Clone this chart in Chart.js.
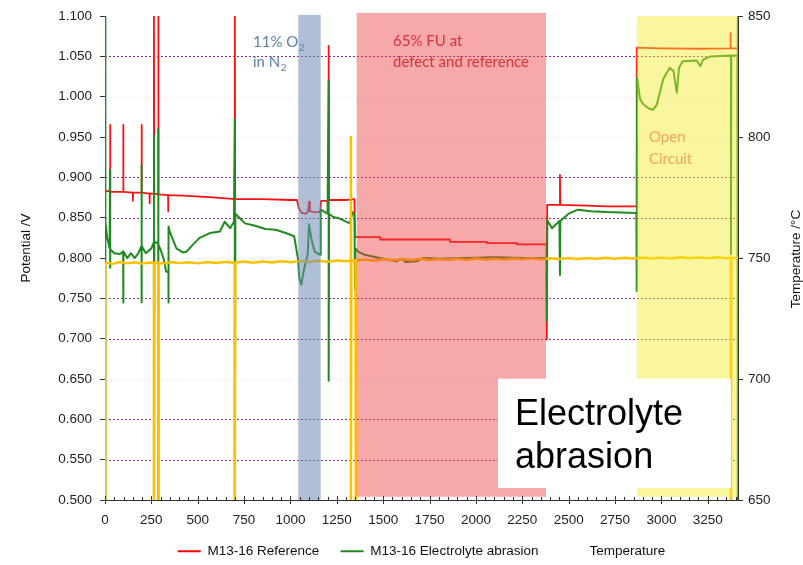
<!DOCTYPE html>
<html><head><meta charset="utf-8">
<script src="https://cdn.jsdelivr.net/npm/chart.js@4/dist/chart.umd.min.js"></script>
<style>html,body{margin:0;padding:0;background:#fff}</style>
</head><body>
<canvas id="c" width="803" height="565"></canvas>
<script>
// ---------- data ----------
const seriesNames = ['M13-16 Reference', 'M13-16 Electrolyte abrasion', 'Temperature'];
const xTickValues = [0,250,500,750,1000,1250,1500,1750,2000,2250,2500,2750,3000,3250];

// [time, potential V]
const referenceSeries = [
 [5,0.883],[27,0.883],[27,0.965],[29,0.882],[60,0.882],[98,0.882],[98,0.965],[100,0.882],
 [150,0.881],[150,0.871],[152,0.881],[197,0.881],[197,0.965],[199,0.881],[240,0.880],[240,0.868],[242,0.880],
 [264,0.880],[264,1.1],[266,0.880],[287,0.879],[287,1.1],[289,0.879],[340,0.878],[340,0.858],[342,0.878],
 [450,0.877],[600,0.875],[700,0.873],[700,1.1],[702,0.873],[850,0.873],[1000,0.872],[1035,0.872],
 [1045,0.862],[1060,0.856],[1085,0.855],[1095,0.858],[1100,0.870],[1105,0.858],[1130,0.857],[1160,0.857],
 [1165,0.871],[1206,0.871],[1206,1.063],[1208,0.872],[1300,0.872],[1345,0.873],[1348,0.826],[1483,0.826],
 [1484,0.823],[1860,0.823],[1861,0.820],[2058,0.820],[2059,0.8185],[2220,0.8185],[2221,0.817],[2381,0.817],
 [2382,0.699],[2384,0.866],[2450,0.866],[2453,0.866],[2453,0.903],[2455,0.866],[2600,0.865],[2700,0.864],
 [2865,0.864],[2867,1.061],[3000,1.060],[3200,1.0595],[3372,1.060],[3372,1.079],[3374,1.060],[3413,1.060]
];

// [time, potential V]
const abrasionSeries = [
 [0,1.1],[0,0.5],[1,0.845],[5,0.845],[12,0.825],[25,0.812],[27,0.909],[27,0.788],[29,0.811],[50,0.806],
 [80,0.805],[98,0.808],[98,0.745],[100,0.808],[120,0.800],[140,0.806],[160,0.800],[180,0.806],
 [197,0.815],[197,0.915],[197,0.745],[199,0.815],[220,0.806],[250,0.812],[264,0.820],[264,0.952],[264,0.5],
 [266,0.820],[287,0.818],[287,0.960],[287,0.5],[289,0.817],[300,0.810],[315,0.800],[330,0.783],[342,0.783],
 [342,0.745],[343,0.839],[350,0.832],[385,0.812],[420,0.807],[440,0.808],[475,0.817],[510,0.825],[565,0.831],
 [620,0.833],[645,0.845],[675,0.837],[695,0.845],[700,0.972],[700,0.5],[703,0.855],[755,0.843],[810,0.840],
 [865,0.836],[920,0.835],[975,0.831],[1020,0.827],[1040,0.800],[1048,0.775],[1058,0.767],[1075,0.788],
 [1093,0.805],[1100,0.842],[1112,0.825],[1130,0.808],[1160,0.804],[1163,0.860],[1200,0.855],[1206,1.020],
 [1206,0.648],[1208,0.855],[1230,0.851],[1265,0.849],[1320,0.843],[1335,0.857],[1345,0.853],[1348,0.761],
 [1350,0.812],[1365,0.808],[1400,0.804],[1480,0.800],[1550,0.797],[1570,0.796],[1600,0.799],[1620,0.795],
 [1680,0.796],[1715,0.800],[1800,0.799],[1950,0.800],[2100,0.801],[2250,0.800],[2381,0.800],[2382,0.722],
 [2385,0.847],[2410,0.837],[2450,0.846],[2453,0.779],[2455,0.846],[2500,0.855],[2550,0.860],[2620,0.858],
 [2700,0.857],[2865,0.856],[2867,0.759],[2869,1.024],[2885,0.997],[2905,0.990],[2935,0.985],[2955,0.984],
 [2975,0.990],[3010,1.022],[3045,1.036],[3065,1.032],[3083,1.005],[3095,1.036],[3115,1.044],[3190,1.045],
 [3210,1.038],[3225,1.046],[3265,1.050],[3375,1.051],[3375,0.805],[3377,1.051],[3410,1.051],[3412,0.5],[3412,1.1]
];

// [time, temperature °C]
const temperatureSeries = [
 [0,650],[0,748.0],[3,748.2],[40,747.6],[80,748.4],[120,747.8],[160,748.3],[200,747.7],[240,748.2],
 [264,748.0],[264,650],[266,748.0],[287,748.1],[287,650],[289,748.0],[320,747.7],[360,748.4],[400,747.9],
 [450,748.3],[500,747.8],[550,748.4],[600,748.0],[650,748.5],[700,748.0],[700,650],[702,748.2],[750,748.6],
 [800,748.1],[850,748.6],[900,748.2],[950,748.7],[1000,748.3],[1050,748.8],[1100,748.4],[1150,748.9],
 [1200,748.5],[1250,749.0],[1300,748.7],[1326,749.0],[1326,800],[1326,650],[1328,749.0],[1351,749.1],
 [1351,650],[1353,749.1],[1400,749.4],[1450,748.9],[1500,749.5],[1550,749.1],[1600,749.6],[1650,749.2],
 [1700,749.7],[1750,749.2],[1800,749.6],[1850,749.3],[1900,749.7],[1950,749.3],[2000,749.8],[2050,749.4],
 [2100,749.7],[2150,749.4],[2200,749.8],[2250,749.5],[2300,749.9],[2350,749.5],[2400,749.9],[2450,749.6],
 [2500,750.0],[2550,749.6],[2600,750.0],[2650,749.7],[2700,750.1],[2750,749.7],[2800,750.1],[2850,749.8],
 [2900,750.2],[2950,749.8],[3000,750.2],[3050,749.8],[3100,750.3],[3150,749.9],[3200,750.2],[3250,749.9],
 [3300,750.3],[3350,749.9],[3375,750.1],[3375,650],[3377,750.0],[3413,750.1]
];

// grid levels of the potential axis
const gridLevels = [1.05, 1.0, 0.95, 0.9, 0.85, 0.8, 0.75, 0.7, 0.65, 0.6, 0.55];
const faintLevels = [1.0, 0.95, 0.8, 0.65];

// highlighted experiment phases [start, end] in time units
const phaseO2 = [1042, 1163];
const phaseFU = [1357, 2378];
const phaseOC = [2867, 3413];
const labelBoxRange = [2119, 3375];

// ---------- styling ----------
const FONT = "'Liberation Sans', Arial, sans-serif";
const NOTE_FONT = "Lato, 'Open Sans', sans-serif";

const bands = [
  {r: phaseO2, top: 1.1015, bottom: 0.5, color: 'rgba(110,140,180,0.55)'},
  {r: phaseFU, top: 1.104, bottom: 0.504, color: 'rgba(237,62,62,0.45)'},
  {r: phaseOC, top: 1.1, bottom: 0.504, color: 'rgba(244,235,44,0.45)'}
];
const notes = [
  {t: '11% O', sub: '2', x: 798, y: 1.0622, c: '#5b7fa8'},
  {t: 'in N', sub: '2', x: 798, y: 1.0375, c: '#5b7fa8'},
  {t: '65% FU at', x: 1553, y: 1.0634, c: '#d8343a'},
  {t: 'defect and reference', x: 1553, y: 1.0363, c: '#d8343a'},
  {t: 'Open', x: 2933, y: 0.9438, c: '#f0a558'},
  {t: 'Circuit', x: 2933, y: 0.917, c: '#f0a558'}
];

const overlay = {
  id: 'overlay',
  beforeDatasetsDraw(chart) {
    const {ctx, chartArea: a, scales: {y}} = chart;
    ctx.save();
    ctx.lineWidth = 1;
    ctx.setLineDash([2, 2]);
    gridLevels.forEach(v => {
      const py = Math.round(y.getPixelForValue(v)) + 0.5;
      ctx.strokeStyle = faintLevels.includes(v) ? 'rgba(190,200,225,0.35)' : '#8e2a9e';
      ctx.beginPath(); ctx.moveTo(a.left, py); ctx.lineTo(a.right, py); ctx.stroke();
    });
    ctx.restore();
  },
  afterDatasetsDraw(chart) {
    const {ctx, chartArea: a, scales: {x, y}} = chart;
    ctx.save();
    bands.forEach(b => {
      const x0 = x.getPixelForValue(b.r[0]), x1 = x.getPixelForValue(b.r[1]);
      const y0 = y.getPixelForValue(b.top), y1 = y.getPixelForValue(b.bottom);
      ctx.fillStyle = b.color;
      ctx.fillRect(x0, y0, x1 - x0, y1 - y0);
    });
    ctx.textBaseline = 'alphabetic';
    ctx.textAlign = 'left';
    notes.forEach(n => {
      const px = x.getPixelForValue(n.x), py = y.getPixelForValue(n.y);
      ctx.font = '15px ' + NOTE_FONT;
      ctx.fillStyle = n.c;
      ctx.fillText(n.t, px, py);
      if (n.sub) {
        const w = ctx.measureText(n.t).width;
        ctx.font = '10px ' + NOTE_FONT;
        ctx.fillText(n.sub, px + w + 0.5, py + 4);
      }
    });
    // white label box
    const bx0 = x.getPixelForValue(labelBoxRange[0]), bx1 = x.getPixelForValue(labelBoxRange[1]);
    const by0 = y.getPixelForValue(0.6504), by1 = y.getPixelForValue(0.5148);
    ctx.fillStyle = '#ffffff';
    ctx.fillRect(bx0, by0, bx1 - bx0, by1 - by0);
    ctx.fillStyle = '#000';
    ctx.font = '36px ' + FONT;
    ctx.fillText('Electrolyte', x.getPixelForValue(2211), y.getPixelForValue(0.5928));
    ctx.fillText('abrasion', x.getPixelForValue(2211), y.getPixelForValue(0.5398));
    ctx.restore();
  },
  afterDraw(chart) {
    const {ctx, chartArea: a, scales: {x}} = chart;
    ctx.save();
    // x-axis tick marks (major every 250, minor every 50)
    ctx.strokeStyle = '#333';
    ctx.lineWidth = 1;
    for (let v = 0; v <= x.max; v += 50) {
      const px = Math.round(x.getPixelForValue(v)) + 0.5;
      const major = v % 250 === 0;
      ctx.beginPath();
      ctx.moveTo(px, a.bottom - (major ? 4 : 3));
      ctx.lineTo(px, a.bottom + (major ? 4 : 0));
      ctx.stroke();
    }
    // axis titles
    ctx.fillStyle = '#111';
    ctx.font = '13.5px ' + FONT;
    ctx.textAlign = 'center';
    ctx.textBaseline = 'middle';
    ctx.translate(26, 248);
    ctx.rotate(-Math.PI / 2);
    ctx.fillText('Potential /V', 0, 0);
    ctx.setTransform(1, 0, 0, 1, 0, 0);
    ctx.translate(796, 259);
    ctx.rotate(-Math.PI / 2);
    ctx.fillText('Temperature /°C', 0, 0);
    ctx.restore();
  }
};

const toXY = arr => arr.map(p => ({x: p[0], y: p[1]}));
const legendColors = ['#ff0000', '#1f8a1f', 'rgba(0,0,0,0)'];
const legendGap = ['   ', '   ', ''];

new Chart(document.getElementById('c'), {
  type: 'line',
  data: {
    datasets: [
      {label: seriesNames[0], data: toXY(referenceSeries), borderColor: '#ff1010', borderWidth: 1.8, yAxisID: 'y', order: 3},
      {label: seriesNames[1], data: toXY(abrasionSeries), borderColor: '#1f8a1f', borderWidth: 2, yAxisID: 'y', order: 2},
      {label: seriesNames[2], data: toXY(temperatureSeries), borderColor: '#ffc000', borderWidth: 2.5, yAxisID: 'y2', order: 1}
    ]
  },
  options: {
    responsive: false, animation: false, devicePixelRatio: 1,
    layout: {padding: {top: 13, left: 0, right: 0, bottom: -3}},
    elements: {point: {radius: 0}, line: {tension: 0, borderJoinStyle: 'round'}},
    plugins: {
      tooltip: {enabled: false},
      legend: {
        position: 'bottom', fullSize: false,
        labels: {
          boxWidth: 23, boxHeight: 2, padding: 10, color: '#111',
          font: {size: 13.5, family: FONT},
          generateLabels: (chart) => chart.data.datasets.map((ds, i) => ({
            text: ds.label + legendGap[i], fillStyle: legendColors[i], strokeStyle: legendColors[i],
            lineWidth: 0, hidden: false, datasetIndex: i, fontColor: '#111'
          }))
        }
      }
    },
    scales: {
      x: {
        type: 'linear', min: 0, max: 3413,
        afterFit(s) { s.height = 34.5; },
        afterBuildTicks(s) { s.ticks = xTickValues.map(v => ({value: v})); },
        ticks: {autoSkip: false, maxRotation: 0, color: '#222', padding: 12,
                font: {size: 13.5, family: FONT}, callback: v => String(v)},
        grid: {drawOnChartArea: false, drawTicks: false},
        border: {color: '#333', width: 1}
      },
      y: {
        position: 'left', min: 0.5, max: 1.1,
        afterFit(s) { s.width = 105; },
        ticks: {stepSize: 0.05, color: '#222', padding: 8,
                font: {size: 13.5, family: FONT}, callback: v => Number(v).toFixed(3)},
        grid: {drawOnChartArea: false, tickLength: 5, tickColor: '#333'},
        border: {color: '#333', width: 1}
      },
      y2: {
        position: 'right', min: 650, max: 850,
        afterFit(s) { s.width = 65; },
        ticks: {stepSize: 50, color: '#222', padding: 5, font: {size: 13.5, family: FONT}},
        grid: {drawOnChartArea: false, tickLength: 5, tickColor: '#333'},
        border: {color: '#333', width: 1}
      }
    }
  },
  plugins: [overlay]
});
</script>
</body></html>
